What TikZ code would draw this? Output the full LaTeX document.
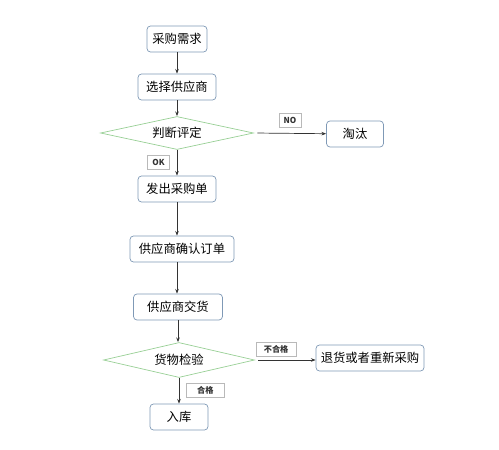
\documentclass[tikz,border=0pt]{standalone}
\usepackage{fontspec}
\setmainfont{Noto Sans CJK SC}
\usepackage{xcolor}
\usepackage{tikz}
\usetikzlibrary{positioning, arrows.meta, calc, shapes.geometric}

\definecolor{boxline}{HTML}{7F99B6}
\definecolor{dialine}{HTML}{98CF95}

\begin{document}
\begin{tikzpicture}[
  x=0.03cm, y=-0.03cm,
  every node/.style = {font=\fontsize{10.5}{12}\selectfont},
  box/.style   = {draw=boxline, line width=0.6pt, rounded corners=3pt,
                  fill=white, inner sep=2pt, minimum height=0.78cm,
                  align=center},
  dia/.style   = {draw=dialine, line width=0.6pt, diamond, aspect=4,
                  inner sep=0pt},
  tag/.style   = {draw=gray!55, fill=white, inner sep=1.5pt,
                  minimum height=0.42cm,
                  font=\fontsize{7}{8}\selectfont\bfseries},
  arr/.style   = {-{Stealth[length=4pt,width=3pt]}, line width=0.6pt,
                  black!80}
]
\useasboundingbox (0,0) rectangle (499,450);

\node[box, minimum width=1.8cm]  (need)    at (177, 39)  {采购需求};
\node[box, minimum width=2.34cm] (choose)  at (177, 87)  {选择供应商};
\node[dia, minimum width=4.59cm, minimum height=0.99cm]
                                 (judge)   at (177,133)  {判断评定};
\node[box, minimum width=1.71cm] (drop)    at (355,134)  {淘汰};
\node[box, minimum width=2.34cm] (order)   at (177,189)  {发出采购单};
\node[box, minimum width=3.12cm] (confirm) at (182,249)  {供应商确认订单};
\node[box, minimum width=2.67cm] (deliver) at (178,307)  {供应商交货};
\node[dia, minimum width=4.53cm, minimum height=1.05cm]
                                 (check)   at (179,360)  {货物检验};
\node[box, minimum width=3.24cm] (back)    at (370,358)  {退货或者重新采购};
\node[box, minimum width=1.74cm] (store)   at (179,417)  {入库};

\draw[arr] (need)   -- (choose);
\draw[arr] (choose) -- (judge);
\draw[arr] (judge)  -- node[tag, left=6pt, midway, minimum width=0.66cm] (ok) {OK} (order);
\draw[arr] (order.south)   -- (order.south |- confirm.north);
\draw[arr] (confirm.south -| order) -- (order |- deliver.north);
\draw[arr] (deliver)       -- (deliver |- check.north);
\draw[arr] (check)  -- node[tag, right=6pt, midway, minimum width=1.14cm] (pass) {合格} (store);

\draw[arr, shorten <=3pt] (judge.east)
  -- node[tag, above=5pt, midway, minimum width=0.66cm] (no) {NO}
  (drop);
\draw[arr, shorten <=3pt] (check.east)
  -- node[tag, above=3pt, pos=0.35, minimum width=1.2cm] (fail) {不合格}
  (check.east -| back.west);

\end{tikzpicture}
\end{document}
